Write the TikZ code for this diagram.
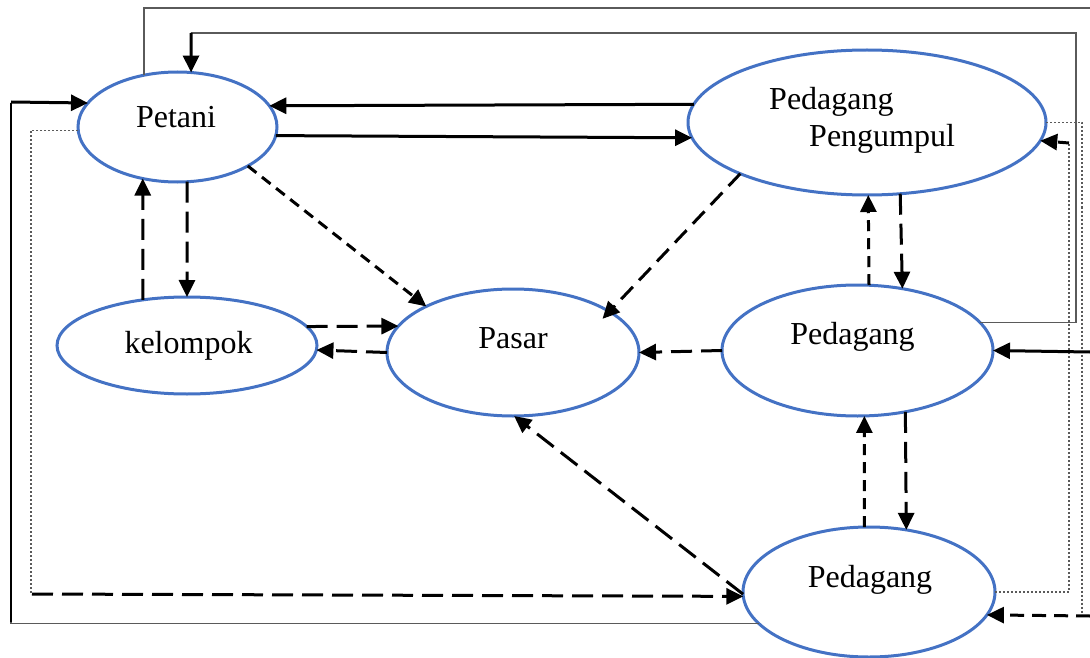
\documentclass[tikz,border=0pt]{standalone}
\usepackage{fontspec}
\setmainfont{Liberation Serif}
\usetikzlibrary{shapes.geometric,arrows.meta}
\definecolor{eblue}{HTML}{4472C4}
\definecolor{lgray}{HTML}{5A5A5A}
\tikzset{
  elps/.style={ellipse, draw=eblue, line width=3pt, outer sep=0pt, inner sep=0pt},
  lbl/.style={inner sep=0pt, font=\fontsize{32}{38}\selectfont},
  arr/.style={line width=3pt, -{Triangle[length=17pt,width=16pt]}},
  ld/.style={dash pattern=on 21pt off 9pt},
  md/.style={dash pattern=on 17pt off 9pt},
  sd/.style={dash pattern=on 11pt off 7pt},
  rd/.style={dash pattern=on 14pt off 8pt},
  gline/.style={draw=lgray, line width=1.5pt},
  dline/.style={draw=lgray, line width=1.2pt, dash pattern=on 2pt off 2pt},
}
\begin{document}
\begin{tikzpicture}[x=1pt,y=-1pt]
\useasboundingbox (0,0) rectangle (1090,658);
% ellipses
\node[elps, minimum width=199pt, minimum height=110pt] (petani) at (177.5,127) {};
\node[elps, minimum width=358pt, minimum height=145pt] (pengumpul) at (867,122.5) {};
\node[elps, minimum width=260pt, minimum height=97pt] (kelompok) at (187,345.5) {};
\node[elps, minimum width=252pt, minimum height=127pt] (pasar) at (513,352.5) {};
\node[elps, minimum width=271pt, minimum height=131pt] (pedagang) at (857.5,350.5) {};
\node[elps, minimum width=252pt, minimum height=130pt] (pedagangB) at (869,592) {};
% texts
\node[lbl, anchor=base] (tPetani) at (176,128) {Petani};
\node[lbl, anchor=base west] (tPed1) at (769,110) {Pedagang};
\node[lbl, anchor=base west] (tPeng) at (809,147) {Pengumpul};
\node[lbl, anchor=base] (tKel) at (188.5,353) {kelompok};
\node[lbl, anchor=base] (tPasar) at (513,348) {Pasar};
\node[lbl, anchor=base] (tPed2) at (852.5,344) {Pedagang};
\node[lbl, anchor=base] (tPed3) at (870,587) {Pedagang};
% free ends
\coordinate (topR) at (1090,8);
\coordinate (inR) at (1090,352);
\coordinate (inRB) at (1090,616);
% outer gray line from Petani top
\draw[gline] (petani.123) |- (topR);
% gray loop from Pedagang to Petani
\draw[gline] (pedagang.13.7) -| (1076,33) -- (191,33);
\draw[arr] (191,33) -- (petani.76);
% left solid loop from bottom Pedagang to Petani
\draw[gline] (pedagangB.-164.5) -| (11,103);
\draw[line width=1.5pt] (11,622) -- (11,103);
\draw[arr] (11,102) -- (petani.165.7);
% left dotted + dashed
\draw[dline] (petani.-178.8) -| (31,594);
\draw[arr, ld] (32,594) -- (pedagangB.182.3);
% right dotted loops
\draw[dline] (pengumpul.0) -| (1082,616);
\draw[arr, rd] (inRB) -- (pedagangB.-11.6);
\draw[dline] (pedagangB.0) -| (1069,143);
\draw[arr, sd] (1069,143) -- (pengumpul.-6.8);
% right solid arrow
\draw[arr] (inR) -- (pedagang.0);
% Petani <-> Pengumpul
\draw[arr] (pengumpul.174.5) -- (petani.13.1);
\draw[arr] (petani.-5.06) -- (pengumpul.-175.7);
% to Pasar
\draw[arr, sd] (petani.-29.5) -- (pasar.152.9);
\draw[arr, md, shorten >=-10pt] (pengumpul.-158.1) -- (pasar.23.6);
% Petani <-> kelompok
\draw[arr, ld] (kelompok.134) -- (petani.236.2);
\draw[arr, ld] (petani.-80.2) -- (kelompok.90);
% kelompok <-> Pasar
\draw[arr, ld] (kelompok.9.4) -- (pasar.167.4);
\draw[arr, ld] (pasar.180) -- (kelompok.-2.9);
% Pedagang -> Pasar
\draw[arr, ld] (pedagang.180.6) -- (pasar.0);
% Pengumpul <-> Pedagang
\draw[arr, sd] (pedagang.80.9) -- (pengumpul.-89.7);
\draw[arr, ld] (pengumpul.-65.2) -- (pedagang.54.3);
% Pedagang <-> Pedagang bottom
\draw[arr, sd] (pedagangB.94.4) -- (pedagang.-84.3);
\draw[arr, ld] (pedagang.-52.9) -- (pedagangB.59.2);
% bottom Pedagang -> Pasar
\draw[arr, ld] (pedagangB.181) -- (pasar.-89.1);
\end{tikzpicture}
\end{document}
